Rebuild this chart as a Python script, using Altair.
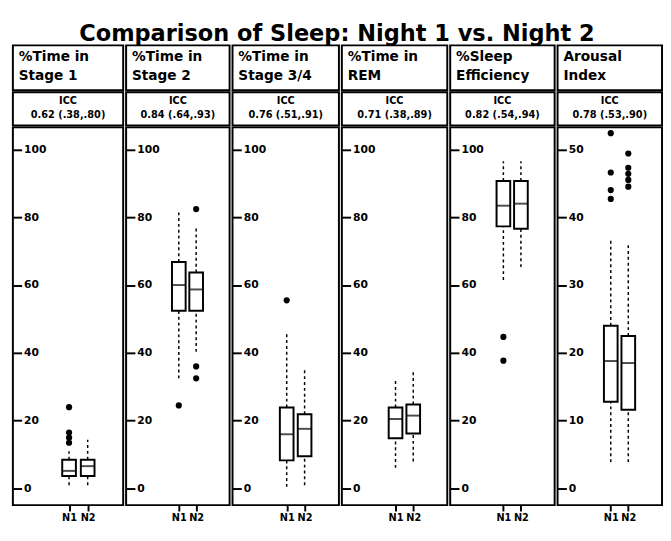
import altair as alt
import pandas as pd

title_text = "Comparison of Sleep: Night 1 vs. Night 2"
measures = ["%Time in\nStage 1", "%Time in\nStage 2", "%Time in\nStage 3/4",
            "%Time in\nREM", "%Sleep\nEfficiency", "Arousal\nIndex"]
icc_text = ["0.62 (.38,.80)", "0.84 (.64,.93)", "0.76 (.51,.91)",
            "0.71 (.38,.89)", "0.82 (.54,.94)", "0.78 (.53,.90)"]
nights = ["N1", "N2"]

# box statistics per measure, [N1, N2]
q1 = [[3.7, 3.7], [52.4, 52.4], [8.3, 9.5], [14.8, 16.2], [77.3, 76.6], [12.8, 11.6]]
median = [[5.2, 6.6], [60.0, 58.7], [16.0, 17.6], [20.5, 21.5], [83.4, 84.0], [18.8, 18.5]]
q3 = [[8.5, 8.5], [66.8, 63.7], [23.9, 21.9], [23.9, 24.8], [90.7, 90.7], [24.0, 22.5]]
whisk_lo = [[1.0, 1.0], [32.5, 40.3], [0.5, 1.0], [6.1, 8.0], [61.5, 65.3], [3.9, 3.9]]
whisk_hi = [[11.0, 14.4], [81.4, 77.0], [45.5, 35.7], [32.0, 34.5], [96.5, 96.5], [36.7, 36.0]]
outliers = [
    [[24.0, 16.5, 15.0, 13.5], []],
    [[24.5], [82.4, 36.0, 32.5]],
    [[55.5], []],
    [[], []],
    [[44.7, 37.7], []],
    [[52.4, 46.6, 44.0, 42.7], [49.4, 47.3, 46.4, 45.5, 44.5]],
]
y_ticks = [[0, 20, 40, 60, 80, 100]] * 5 + [[0, 10, 20, 30, 40, 50]]
y_domains = [[-4.9, 106.5]] * 5 + [[-2.45, 53.25]]

widths = [113, 106, 109, 108, 107, 107]
X_DOMAIN = [-1.755, 3.645]
FONT = "DejaVu Sans"


def panel(i):
    w = widths[i]
    box_df = pd.DataFrame({
        "night": [1, 2], "q1": q1[i], "med": median[i], "q3": q3[i],
        "lo": whisk_lo[i], "hi": whisk_hi[i],
    })
    rows = [{"night": j + 1, "value": v} for j in range(2) for v in outliers[i][j]]
    out_df = pd.DataFrame(rows, columns=["night", "value"])

    xs = alt.Scale(domain=X_DOMAIN, nice=False, zero=False)
    ys = alt.Scale(domain=y_domains[i], nice=False, zero=False)
    xaxis = alt.Axis(values=[1, 2], title=None, grid=False, domain=False,
                     labelExpr=f"datum.value == 1 ? '{nights[0]}' : '{nights[1]}'",
                     tickSize=6, tickWidth=2, tickColor="black",
                     labelFont=FONT, labelFontSize=10, labelFontWeight="bold",
                     labelColor="black", labelPadding=2)
    yaxis = alt.Axis(orient="right", offset=-w, values=y_ticks[i], title=None,
                     grid=False, domain=False, tickSize=9, tickWidth=2,
                     tickColor="black", labelFont=FONT, labelFontSize=11,
                     labelFontWeight="bold", labelColor="black", labelPadding=2)

    def X():
        return alt.X("night:Q", scale=xs, axis=xaxis)

    def Y(f):
        return alt.Y(f, type="quantitative", scale=ys, axis=yaxis)

    base = alt.Chart(box_df)
    upper = base.mark_rule(strokeDash=[3, 3], strokeWidth=1.5, color="black").encode(
        x=X(), y=Y("q3"), y2="hi:Q")
    lower = base.mark_rule(strokeDash=[3, 3], strokeWidth=1.5, color="black").encode(
        x=X(), y=Y("lo"), y2="q1:Q")
    box = base.mark_bar(size=14, fill="white", stroke="black", strokeWidth=2).encode(
        x=X(), y=Y("q1"), y2="q3:Q")
    med = base.mark_tick(orient="horizontal", size=14, thickness=2, color="black").encode(
        x=X(), y=Y("med"))
    pts = alt.Chart(out_df).mark_point(filled=True, color="black", size=40, opacity=1).encode(
        x=X(), y=Y("value"))
    plot = alt.layer(upper, lower, box, med, pts).properties(width=w, height=387)

    hdr = alt.Chart(pd.DataFrame({"t": [measures[i]]})).mark_text(
        align="left", baseline="top", font=FONT, fontWeight="bold", fontSize=14,
        lineBreak="\n", lineHeight=20, color="black").encode(
        x=alt.value(6), y=alt.value(5), text="t:N").properties(width=w, height=46)
    icc = alt.Chart(pd.DataFrame({"t": ["ICC\n" + icc_text[i]]})).mark_text(
        align="center", baseline="top", font=FONT, fontWeight="bold", fontSize=10,
        lineBreak="\n", lineHeight=14, color="black").encode(
        x=alt.value(w / 2), y=alt.value(4), text="t:N").properties(width=w, height=34)
    return alt.vconcat(hdr, icc, plot, spacing=0)


chart = alt.hconcat(*[panel(i) for i in range(6)], spacing=0).properties(
    title=alt.TitleParams(title_text, fontSize=23, font=FONT,
                          fontWeight="bold", color="black", anchor="middle", offset=-2),
    padding={"left": 3, "top": 10, "right": 0, "bottom": -8},
).configure_view(stroke="black", strokeWidth=2).configure_concat(spacing=0)

chart.save("out.html", embed_options={"renderer": "svg", "actions": False})
